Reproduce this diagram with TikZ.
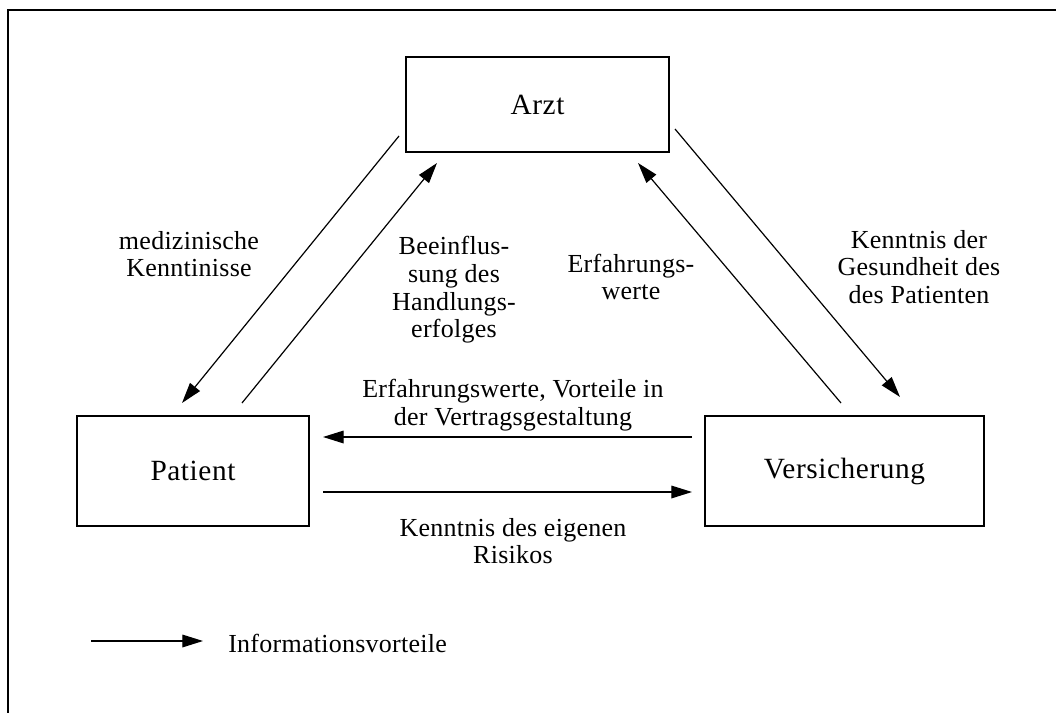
\documentclass[tikz,border=0pt]{standalone}
\usepackage{fontspec}
\setmainfont{Liberation Serif}
\newfontfamily\boxfont{Liberation Serif}[LetterSpace=2]
\newfontfamily\lblfont{Liberation Serif}[LetterSpace=1]
\usetikzlibrary{arrows.meta}
\begin{document}
\begin{tikzpicture}[x=0.75pt,y=-0.75pt,
  box/.style={draw,line width=1pt,inner sep=0pt,font=\boxfont\fontsize{22}{25}\selectfont},
  lbl/.style={align=center,inner sep=0pt,font=\lblfont\fontsize{19.5}{20.8}\selectfont},
  flow/.style={line width=0.9pt,-{Triangle[length=15.5pt,width=9.5pt]}}]
\useasboundingbox (0,0) rectangle (1056,713);
% frame (top and left edges visible)
\draw[line width=1.3pt] (8,713) -- (8,10) -- (1056,10);
% boxes
\node[box,minimum width=197.25pt,minimum height=71.25pt] (arzt) at (537.5,104.5) {Arzt};
\node[box,minimum width=174pt,minimum height=82.5pt] (patient) at (193,471) {Patient};
\node[box,minimum width=209.25pt,minimum height=82.5pt] (vers) at (844.5,471) {Versicherung};
% connector end points
\coordinate (a1) at (399,136);  \coordinate (p1) at (182,403);
\coordinate (p2) at (242,403);  \coordinate (a2) at (437,163);
\coordinate (v3) at (841,403);  \coordinate (a3) at (638,163);
\coordinate (a4) at (675,129);  \coordinate (v4) at (900,397);
\coordinate (v5) at (692,437);  \coordinate (p5) at (323,437);
\coordinate (p6) at (323,492);  \coordinate (v6) at (692,492);
\coordinate (l1) at (91,641);   \coordinate (l2) at (203,641);
% connectors
\draw[flow] (a1) -- (p1);
\draw[flow] (p2) -- (a2);
\draw[flow] (v3) -- (a3);
\draw[flow] (a4) -- (v4);
\draw[flow] (v5) -- (p5);
\draw[flow] (p6) -- (v6);
\draw[flow] (l1) -- (l2);
% labels
\node[lbl] (t1) at (189,254) {medizinische\\Kenntinisse};
\node[lbl] (t2) at (454,290) {Beeinflus-\\sung des\\Handlungs-\\erfolges};
\node[lbl] (t3) at (631,277) {Erfahrungs-\\werte};
\node[lbl] (t4) at (919,267) {Kenntnis der\\Gesundheit des\\des Patienten};
\node[lbl] (t5) at (513,405) {Erfahrungswerte, Vorteile in\\der Vertragsgestaltung};
\node[lbl] (t6) at (513,541) {Kenntnis des eigenen\\Risikos};
\node[lbl,anchor=base west] (t7) at (228,652) {Informationsvorteile};
\end{tikzpicture}
\end{document}
